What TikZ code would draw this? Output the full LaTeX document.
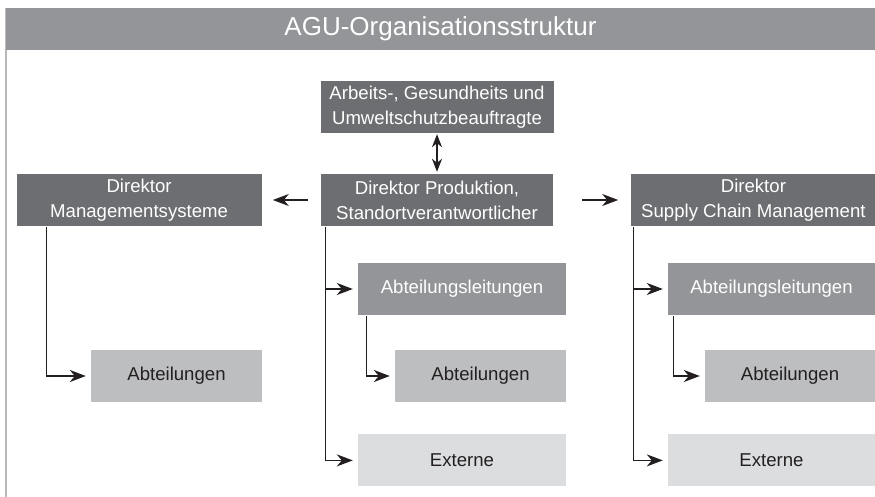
\documentclass[tikz,border=0pt]{standalone}
\usepackage{fontspec}
\setmainfont{Liberation Sans}
\usepackage{tikz}
\usetikzlibrary{arrows.meta, positioning}

\definecolor{BarGray}{HTML}{939598}
\definecolor{DarkBox}{HTML}{6D6E71}
\definecolor{MidBox}{HTML}{939598}
\definecolor{LightBox}{HTML}{BCBEC0}
\definecolor{PaleBox}{HTML}{DCDDDF}
\definecolor{InkGray}{HTML}{231F20}

\begin{document}
\begin{tikzpicture}[
  x=1pt, y=-1pt,
  every node/.style={font=\fontsize{18.6}{25}\selectfont, inner sep=0pt},
  director/.style={fill=DarkBox, text=white, minimum height=52pt, align=center},
  leitung/.style={fill=MidBox, text=white, minimum height=52pt, align=center},
  abteilung/.style={fill=LightBox, text=InkGray, minimum height=52pt, align=center},
  extern/.style={fill=PaleBox, text=InkGray, minimum height=52pt, align=center},
  arrow/.style={-{Stealth[length=16pt, width=12pt, inset=5pt]}, line width=1.3pt, InkGray},
  tree/.style={arrow, shorten >=5pt, shorten <=1pt},
]
\useasboundingbox (0,0) rectangle (875,497);

% Frame and title
\draw[gray!55, line width=1.5pt] (6,8) -- (6,497);
\node[fill=BarGray, text=white, minimum width=869pt, minimum height=42pt,
  font=\fontsize{26}{30}\selectfont] (title) at (440.5,29) {AGU-Organisationsstruktur};

% Directors
\node[director, minimum width=233pt] (arbeit) at (437,107) {Arbeits-, Gesundheits und\\Umweltschutzbeauftragte};
\node[director, minimum width=232pt] (prod) at (437,200) {Direktor Produktion,\\Standortverantwortlicher};
\node[director, minimum width=245pt, left=59pt of prod] (mgmt) {Direktor\\Managementsysteme};
\node[director, minimum width=244pt, right=78pt of prod] (scm) {Direktor\\Supply Chain Management};

% Departments
\node[abteilung, minimum width=171pt] (abtL) at (176.5,376) {Abteilungen};
\node[leitung, minimum width=208pt] (leitM) at (462,289) {Abteilungsleitungen};
\node[abteilung, minimum width=171pt] (abtM) at (480.5,376) {Abteilungen};
\node[extern, minimum width=208pt, below=119pt of leitM] (extM) {Externe};
\node[leitung, minimum width=207pt] (leitR) at (771.5,289) {Abteilungsleitungen};
\node[abteilung, minimum width=170pt] (abtR) at (790,376) {Abteilungen};
\node[extern, minimum width=207pt, below=119pt of leitR] (extR) {Externe};

% Links between directors
\draw[arrow, {Stealth[length=13pt, width=10pt, inset=4pt]}-{Stealth[length=13pt, width=10pt, inset=4pt]}, shorten <=1pt, shorten >=2pt] (arbeit.south) -- (prod.north);
\draw[arrow, shorten <=13pt, shorten >=11pt] (prod.west) -- (mgmt.east);
\draw[arrow, shorten <=29pt, shorten >=13pt] (prod.east) -- (scm.west);

% Trees
\draw[tree] ([xshift=30pt]mgmt.south west) |- (abtL.west);
\draw[tree] ([xshift=5pt]prod.south west) |- (leitM.west);
\draw[tree] ([xshift=5pt]prod.south west) |- (extM.west);
\draw[tree] ([xshift=9pt]leitM.south west) |- (abtM.west);
\draw[tree] ([xshift=2pt]scm.south west) |- (leitR.west);
\draw[tree] ([xshift=2pt]scm.south west) |- (extR.west);
\draw[tree] ([xshift=6pt]leitR.south west) |- (abtR.west);

\end{tikzpicture}
\end{document}
